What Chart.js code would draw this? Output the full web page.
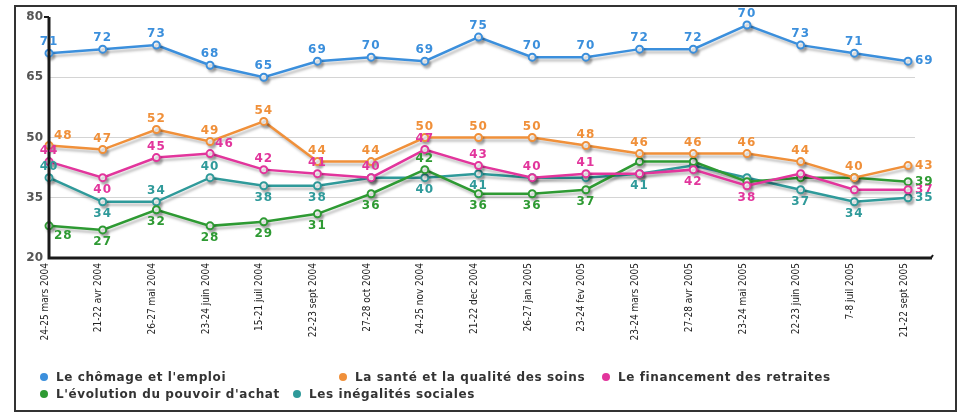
<!DOCTYPE html>
<html>
<head>
<meta charset="utf-8">
<script src="https://cdn.jsdelivr.net/npm/chart.js@4"></script>
<style>
  html, body { margin: 0; padding: 0; background: #fff; }
  body { width: 961px; height: 412px; position: relative; overflow: hidden; }
  #wrap { position: absolute; left: 0; top: 0; width: 961px; height: 355px; }
  #frame { position: absolute; left: 14px; top: 5px; width: 939px; height: 403px; border: 2px solid #333; pointer-events: none; }
  .lg { position: absolute; font: bold 12px "DejaVu Sans", sans-serif; letter-spacing: 0.6px; color: #333; white-space: nowrap; line-height: 14px; }
  .lg i { display: inline-block; width: 8px; height: 8px; border-radius: 50%; margin-right: 8px; vertical-align: 0px; }
</style>
</head>
<body>
<div id="wrap"><canvas id="c" width="961" height="355"></canvas></div>
<div id="frame"></div>
<div id="legend"></div>
<script>
// ---- data ----
const categories = ["24-25 mars 2004","21-22 avr 2004","26-27 mai 2004","23-24 juin 2004","15-21 juil 2004",
  "22-23 sept 2004","27-28 oct 2004","24-25 nov 2004","21-22 dec 2004","26-27 jan 2005","23-24 fev 2005",
  "23-24 mars 2005","27-28 avr 2005","23-24 mai 2005","22-23 juin 2005","7-8 juil 2005","21-22 sept 2005"];
const yTicks = [20, 35, 50, 65, 80];
const seriesNames = ["Le chômage et l'emploi","La santé et la qualité des soins","Le financement des retraites",
  "L'évolution du pouvoir d'achat","Les inégalités sociales"];

const chomage       = [71,72,73,68,65,69,70,69,75,70,70,72,72,78,73,71,69];
const chomageLabels = [71,72,73,68,65,69,70,69,75,70,70,72,72,70,73,71,69];
const sante         = [48,47,52,49,54,44,44,50,50,50,48,46,46,46,44,40,43];
const santeLabels   = [48,47,52,49,54,44,44,50,50,50,48,46,46,46,44,40,43];
const retraites       = [44,40,45,46,42,41,40,47,43,40,41,41,42,38,41,37,37];
const retraitesLabels = [44,40,45,46,42,41,40,47,43,40,41,null,42,38,null,null,37];
const achat       = [28,27,32,28,29,31,36,42,36,36,37,44,44,39,40,40,39];
const achatLabels = [28,27,32,28,29,31,36,42,36,36,37,null,null,null,null,null,39];
const inegalites       = [40,34,34,40,38,38,40,40,41,40,40,41,43,40,37,34,35];
const inegalitesLabels = [40,34,34,40,38,38,null,40,41,null,null,41,null,null,37,34,35];

// ---- styles (label placement: a=above, b=below, r=right, ar=above-right, br=below-right) ----
const colors = ["#3b8fdc","#f0903a","#e2359c","#2e9a33","#2f9a9a"];
const labelPlace = [
  "a a a a a a a a a a a a a a a a r".split(" "),
  "ar a a a a a a a a a a a a a a a r".split(" "),
  "a b a ar a a a a a a a a b b a a r".split(" "),
  "br b b b b b b a b b b b b b b b r".split(" "),
  "a b a a b b b b b b b b b b b b r".split(" ")
];

const values = [chomage, sante, retraites, achat, inegalites];
const labelsArr = [chomageLabels, santeLabels, retraitesLabels, achatLabels, inegalitesLabels];

const datasets = values.map((vals, k) => ({
  label: seriesNames[k],
  data: vals.map((v, i) => ({x: i, y: v})),
  borderColor: colors[k],
  backgroundColor: "#fff",
  pointBackgroundColor: "#fff",
  pointBorderColor: colors[k],
  pointBorderWidth: 2,
  pointRadius: 3.5,
  borderWidth: 2.5,
  tension: 0,
  clip: false
}));

const shadowPlugin = {
  id: "shadow",
  beforeDatasetDraw(chart) {
    const ctx = chart.ctx;
    ctx.save();
    ctx.shadowColor = "rgba(0,0,0,0.25)";
    ctx.shadowOffsetX = 2;
    ctx.shadowOffsetY = 3;
    ctx.shadowBlur = 2.5;
  },
  afterDatasetDraw(chart) { chart.ctx.restore(); }
};

const axesPlugin = {
  id: "axesLines",
  afterDatasetsDraw(chart) {
    const ctx = chart.ctx, a = chart.chartArea;
    ctx.save();
    ctx.strokeStyle = "#1a1a1a";
    ctx.lineWidth = 3;
    ctx.beginPath();
    ctx.moveTo(a.left, a.top);
    ctx.lineTo(a.left, a.bottom);
    ctx.lineTo(932, a.bottom);
    ctx.stroke();
    ctx.lineWidth = 2;
    ctx.beginPath();
    ctx.moveTo(a.left - 5, a.top); ctx.lineTo(a.left, a.top);
    ctx.moveTo(931, a.bottom); ctx.lineTo(933, a.bottom - 3);
    ctx.stroke();
    ctx.restore();
  }
};

const labelPlugin = {
  id: "pointLabels",
  afterDraw(chart) {
    const ctx = chart.ctx;
    ctx.save();
    ctx.font = "bold 12px 'DejaVu Sans', sans-serif";
    try { ctx.letterSpacing = "1px"; } catch (e) {}
    chart.data.datasets.forEach((ds, k) => {
      const meta = chart.getDatasetMeta(k);
      meta.data.forEach((pt, i) => {
        const txt = labelsArr[k][i];
        if (txt === null || txt === undefined) return;
        const place = labelPlace[k][i];
        let x = pt.x, y = pt.y;
        ctx.fillStyle = colors[k];
        ctx.textBaseline = "middle";
        ctx.textAlign = "center";
        if (place === "a") { y -= 11; }
        else if (place === "b") { y += 12; }
        else if (place === "r") { x += 7; ctx.textAlign = "left"; }
        else if (place === "ar") { x += 5; y -= 10; ctx.textAlign = "left"; }
        else if (place === "br") { x += 5; y += 10; ctx.textAlign = "left"; }
        ctx.fillText(String(txt), x, y);
      });
    });
    ctx.restore();
  }
};

new Chart(document.getElementById("c"), {
  type: "line",
  data: { datasets },
  plugins: [shadowPlugin, axesPlugin, labelPlugin],
  options: {
    responsive: false,
    animation: false,
    events: [],
    layout: { padding: { top: 17, left: 0, right: 46, bottom: 0 } },
    plugins: { legend: { display: false }, tooltip: { enabled: false } },
    scales: {
      x: {
        type: "linear",
        min: 0,
        max: 16.13,
        afterBuildTicks(scale) { scale.ticks = categories.map((c, i) => ({ value: i })); },
        afterFit(scale) { scale.height = 97; },
        border: { display: false },
        grid: { display: false, drawTicks: false },
        ticks: {
          autoSkip: false,
          maxRotation: 90,
          minRotation: 90,
          padding: 5,
          labelOffset: -4,
          color: "#222",
          font: { family: "'DejaVu Sans Condensed', 'DejaVu Sans', sans-serif", size: 10 },
          callback: (v) => categories[v]
        }
      },
      y: {
        min: 20,
        max: 80,
        afterBuildTicks(scale) { scale.ticks = yTicks.map(v => ({ value: v })); },
        afterFit(scale) { scale.width = 49; },
        border: { display: false },
        grid: {
          drawTicks: false,
          lineWidth: 1,
          color: (c) => (c.tick && (c.tick.value === 20 || c.tick.value === 80)) ? "rgba(0,0,0,0)" : "#d4d4d4"
        },
        ticks: {
          padding: 6,
          color: "#555",
          font: { family: "'DejaVu Sans', sans-serif", size: 12, weight: "bold" }
        }
      }
    }
  }
});

// ---- legend (HTML) ----
const legendPos = [[40, 370], [339, 370], [602, 370], [40, 387], [293, 387]];
const lg = document.getElementById("legend");
seriesNames.forEach((n, k) => {
  const d = document.createElement("div");
  d.className = "lg";
  d.style.left = legendPos[k][0] + "px";
  d.style.top = legendPos[k][1] + "px";
  const dot = document.createElement("i");
  dot.style.background = colors[k];
  d.appendChild(dot);
  d.appendChild(document.createTextNode(n));
  lg.appendChild(d);
});
</script>
</body>
</html>
